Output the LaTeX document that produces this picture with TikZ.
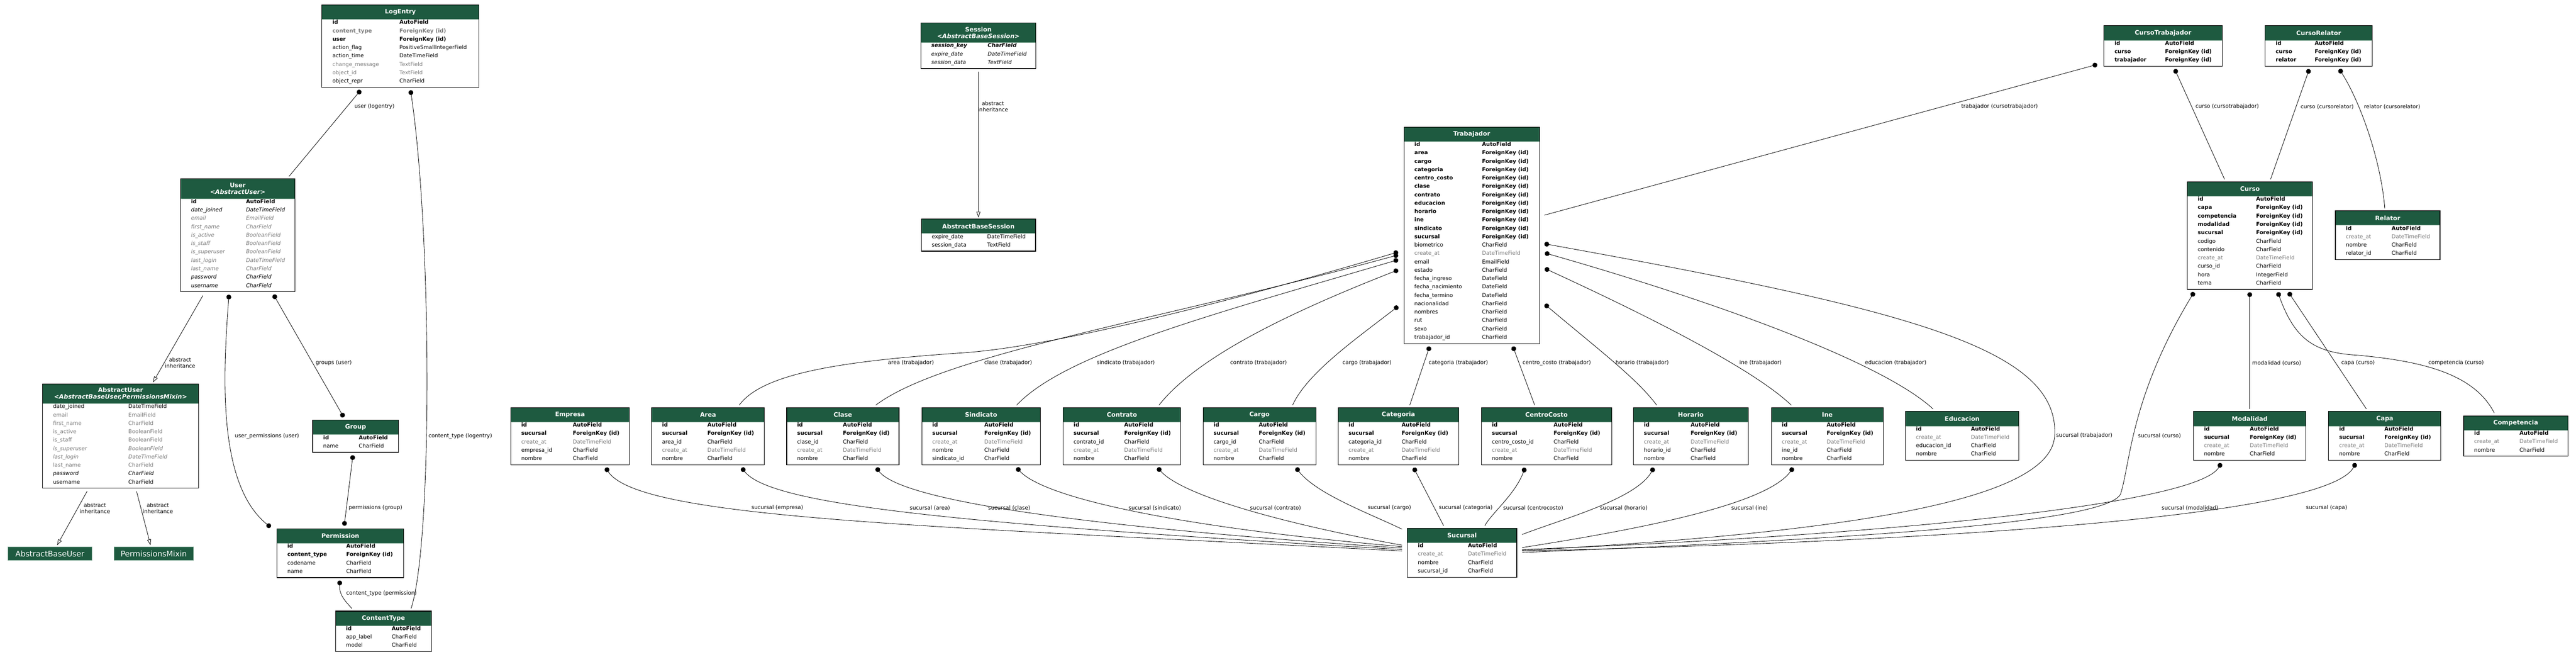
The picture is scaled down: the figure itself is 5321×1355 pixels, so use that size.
\documentclass[tikz,border=0pt]{standalone}
\usepackage{fontspec}
\setmainfont{DejaVu Sans}
\usetikzlibrary{arrows.meta}

\definecolor{hdrgreen}{RGB}{30,90,64}
\definecolor{hdrline}{RGB}{128,168,148}
\definecolor{fieldgray}{RGB}{123,123,123}

\tikzset{
  box/.style={draw=black, line width=1.2pt, fill=white, inner sep=0pt, outer sep=0pt},
  title/.style={text=white, font=\fontsize{12.6}{14}\selectfont\bfseries, align=center, inner sep=0pt},
  fld/.style={font=\fontsize{11.1}{13}\selectfont, inner sep=0pt, anchor=west, text height=8pt, text depth=2.5pt},
  rn/.style={fld},
  rb/.style={fld, font=\fontsize{11.1}{13}\selectfont\bfseries},
  rg/.style={fld, text=fieldgray},
  rbg/.style={rb, text=fieldgray},
  ri/.style={fld, font=\fontsize{11.1}{13}\selectfont\itshape},
  rig/.style={ri, text=fieldgray},
  rbi/.style={fld, font=\fontsize{11.1}{13}\selectfont\bfseries\itshape},
  fk/.style={line width=0.9pt, {Circle[length=10pt]}-},
  mm/.style={line width=0.9pt, {Circle[length=10pt]}-{Circle[length=10pt]}},
  inh/.style={line width=0.9pt, -{Triangle[open, length=12pt, width=8pt, fill=white]}},
  lbl/.style={font=\fontsize{11.1}{13}\selectfont, inner sep=0pt, anchor=west},
  inhlbl/.style={lbl, anchor=center, align=center},
  parentbox/.style={fill=hdrgreen, draw=hdrline, line width=1pt, text=white,
    font=\fontsize{16}{18}\selectfont, inner sep=0pt, anchor=north west}
}

% model table: [header height]{name}{x}{y}{width}{rows}{type column}{title}{fields}
\newcommand{\model}[9][30]{%
  \pgfmathsetmacro{\bh}{#1+19+(#6-1)*17.3}%
  \node[box, anchor=north west, minimum width=#5pt, minimum height=\bh pt] (#2) at (#3,#4) {};%
  \fill[hdrgreen] ([shift={(0.6,0.6)}]#2.north west) rectangle ([shift={(-0.6,#1)}]#2.north east);%
  \draw[hdrline, line width=1pt] ([shift={(0.6,#1)}]#2.north west) -- ([shift={(-0.6,#1)}]#2.north east);%
  \node[title] at ([shift={(0,#1/2)}]#2.north) {#8};%
  \foreach \fn/\ft/\st [count=\i from 0] in {#9} {%
    \node[\st] at ([shift={(21.5,#1+7+\i*17.3)}]#2.north west) {\fn};%
    \node[\st] at ([shift={(#7,#1+7+\i*17.3)}]#2.north west) {\ft};%
  }%
}

\begin{document}
\begin{tikzpicture}[x=1pt, y=-1pt]
\useasboundingbox (0,0) rectangle (5321,1355);

% auth and admin models
\model{LogEntry}{665}{10}{324}{8}{160}{LogEntry}{id/AutoField/rb, content\_type/ForeignKey (id)/rbg, user/ForeignKey (id)/rb, action\_flag/PositiveSmallIntegerField/rn, action\_time/DateTimeField/rn, change\_message/TextField/rg, object\_id/TextField/rg, object\_repr/CharField/rn}
\model[41]{User}{373}{369}{236}{11}{135}{User\\{\itshape <AbstractUser>}}{id/AutoField/rb, date\_joined/DateTimeField/ri, email/EmailField/rig, first\_name/CharField/rig, is\_active/BooleanField/rig, is\_staff/BooleanField/rig, is\_superuser/BooleanField/rig, last\_login/DateTimeField/rig, last\_name/CharField/rig, password/CharField/ri, username/CharField/ri}
\model[41]{AbstractUser}{88}{792}{322}{10}{177}{AbstractUser\\{\itshape <AbstractBaseUser,PermissionsMixin>}}{date\_joined/DateTimeField/rn, email/EmailField/rg, first\_name/CharField/rg, is\_active/BooleanField/rg, is\_staff/BooleanField/rg, is\_superuser/BooleanField/rig, last\_login/DateTimeField/rig, last\_name/CharField/rg, password/CharField/ri, username/CharField/rn}
\model{Group}{646}{867}{177}{2}{95}{Group}{id/AutoField/rb, name/CharField/rn}
\model{Permission}{572}{1091}{262}{4}{143}{Permission}{id/AutoField/rb, content\_type/ForeignKey (id)/rb, codename/CharField/rn, name/CharField/rn}
\model{ContentType}{693}{1261}{198}{3}{116}{ContentType}{id/AutoField/rb, app\_label/CharField/rn, model/CharField/rn}
\node[parentbox, minimum width=173pt, minimum height=28pt] (AbstractBaseUser) at (16,1128) {AbstractBaseUser};
\node[parentbox, minimum width=164pt, minimum height=28pt] (PermissionsMixin) at (235,1128) {PermissionsMixin};

% sessions
\model[41]{Session}{1902}{47}{238}{3}{138}{Session\\{\itshape <AbstractBaseSession>}}{session\_key/CharField/rbi, expire\_date/DateTimeField/ri, session\_data/TextField/ri}
\model{AbstractBaseSession}{1903}{452}{236}{2}{136}{AbstractBaseSession}{expire\_date/DateTimeField/rn, session\_data/TextField/rn}

% trabajador and cursos
\model{Trabajador}{2900}{262}{280}{24}{161}{Trabajador}{id/AutoField/rb, area/ForeignKey (id)/rb, cargo/ForeignKey (id)/rb, categoria/ForeignKey (id)/rb, centro\_costo/ForeignKey (id)/rb, clase/ForeignKey (id)/rb, contrato/ForeignKey (id)/rb, educacion/ForeignKey (id)/rb, horario/ForeignKey (id)/rb, ine/ForeignKey (id)/rb, sindicato/ForeignKey (id)/rb, sucursal/ForeignKey (id)/rb, biometrico/CharField/rn, create\_at/DateTimeField/rg, email/EmailField/rn, estado/CharField/rn, fecha\_ingreso/DateField/rn, fecha\_nacimiento/DateField/rn, fecha\_termino/DateField/rn, nacionalidad/CharField/rn, nombres/CharField/rn, rut/CharField/rn, sexo/CharField/rn, trabajador\_id/CharField/rn}
\model{CursoTrabajador}{4346}{53}{244}{3}{126}{CursoTrabajador}{id/AutoField/rb, curso/ForeignKey (id)/rb, trabajador/ForeignKey (id)/rb}
\model{CursoRelator}{4679}{53}{221}{3}{102}{CursoRelator}{id/AutoField/rb, curso/ForeignKey (id)/rb, relator/ForeignKey (id)/rb}
\model{Curso}{4518}{375}{259}{11}{142}{Curso}{id/AutoField/rb, capa/ForeignKey (id)/rb, competencia/ForeignKey (id)/rb, modalidad/ForeignKey (id)/rb, sucursal/ForeignKey (id)/rb, codigo/CharField/rn, contenido/CharField/rn, create\_at/DateTimeField/rg, curso\_id/CharField/rn, hora/IntegerField/rn, tema/CharField/rn}
\model{Relator}{4824}{435}{216}{4}{116}{Relator}{id/AutoField/rb, create\_at/DateTimeField/rg, nombre/CharField/rn, relator\_id/CharField/rn}

% catalog row
\model{Empresa}{1055}{841}{245}{5}{128}{Empresa}{id/AutoField/rb, sucursal/ForeignKey (id)/rb, create\_at/DateTimeField/rg, empresa\_id/CharField/rn, nombre/CharField/rn}
\model{Area}{1346}{841}{233}{5}{115}{Area}{id/AutoField/rb, sucursal/ForeignKey (id)/rb, area\_id/CharField/rn, create\_at/DateTimeField/rg, nombre/CharField/rn}
\model{Clase}{1625}{841}{232}{5}{116}{Clase}{id/AutoField/rb, sucursal/ForeignKey (id)/rb, clase\_id/CharField/rn, create\_at/DateTimeField/rg, nombre/CharField/rn}
\model{Sindicato}{1904}{841}{245}{5}{129}{Sindicato}{id/AutoField/rb, sucursal/ForeignKey (id)/rb, create\_at/DateTimeField/rg, nombre/CharField/rn, sindicato\_id/CharField/rn}
\model{Contrato}{2196}{841}{243}{5}{126}{Contrato}{id/AutoField/rb, sucursal/ForeignKey (id)/rb, contrato\_id/CharField/rn, create\_at/DateTimeField/rg, nombre/CharField/rn}
\model{Cargo}{2485}{841}{233}{5}{115}{Cargo}{id/AutoField/rb, sucursal/ForeignKey (id)/rb, cargo\_id/CharField/rn, create\_at/DateTimeField/rg, nombre/CharField/rn}
\model{Categoria}{2764}{841}{249}{5}{131}{Categoria}{id/AutoField/rb, sucursal/ForeignKey (id)/rb, categoria\_id/CharField/rn, create\_at/DateTimeField/rg, nombre/CharField/rn}
\model{CentroCosto}{3060}{841}{269}{5}{149}{CentroCosto}{id/AutoField/rb, sucursal/ForeignKey (id)/rb, centro\_costo\_id/CharField/rn, create\_at/DateTimeField/rg, nombre/CharField/rn}
\model{Horario}{3374}{841}{237}{5}{118}{Horario}{id/AutoField/rb, sucursal/ForeignKey (id)/rb, create\_at/DateTimeField/rg, horario\_id/CharField/rn, nombre/CharField/rn}
\model{Ine}{3659}{841}{231}{5}{114}{Ine}{id/AutoField/rb, sucursal/ForeignKey (id)/rb, create\_at/DateTimeField/rg, ine\_id/CharField/rn, nombre/CharField/rn}
\model{Educacion}{3936}{849}{234}{4}{135}{Educacion}{id/AutoField/rb, create\_at/DateTimeField/rg, educacion\_id/CharField/rn, nombre/CharField/rn}
\model{Modalidad}{4531}{849}{232}{4}{116}{Modalidad}{id/AutoField/rb, sucursal/ForeignKey (id)/rb, create\_at/DateTimeField/rg, nombre/CharField/rn}
\model{Capa}{4810}{849}{232}{4}{115}{Capa}{id/AutoField/rb, sucursal/ForeignKey (id)/rb, create\_at/DateTimeField/rg, nombre/CharField/rn}
\model{Competencia}{5089}{858}{215}{3}{115}{Competencia}{id/AutoField/rb, create\_at/DateTimeField/rg, nombre/CharField/rn}
\model{Sucursal}{2907}{1090}{226}{4}{125}{Sucursal}{id/AutoField/rb, create\_at/DateTimeField/rg, nombre/CharField/rn, sucursal\_id/CharField/rn}

% auth relations
\draw[fk] ([shift={(80,6)}]LogEntry.south west) -- ([shift={(224,-5)}]User.north west);
\draw[fk] ([shift={(183,6)}]LogEntry.south west) .. controls (892,480) and (894,1120) .. ([shift={(156,-5)}]ContentType.north west);
\draw[inh] ([shift={(46,8)}]User.south west) -- ([shift={(228,-3)}]AbstractUser.north west);
\draw[mm] ([shift={(100,6)}]User.south west) .. controls (460,780) and (450,1000) .. ([shift={(-13,-3)}]Permission.north west);
\draw[mm] ([shift={(192,6)}]User.south west) -- ([shift={(64,-6)}]Group.north west);
\draw[inh] ([shift={(92,6)}]AbstractUser.south west) -- ([shift={(102,-3)}]AbstractBaseUser.north west);
\draw[inh] ([shift={(194,6)}]AbstractUser.south west) -- ([shift={(76,-3)}]PermissionsMixin.north west);
\draw[mm] ([shift={(83,6)}]Group.south west) -- ([shift={(139,-6)}]Permission.north west);
\draw[fk] ([shift={(130,6)}]Permission.south west) .. controls (700,1230) and (718,1245) .. ([shift={(34,-5)}]ContentType.north west);
\draw[inh] ([shift={(119,6)}]Session.south west) -- ([shift={(118,-3)}]AbstractBaseSession.north west);

% curso relations
\draw[fk] ([shift={(-14,80)}]CursoTrabajador.north west) -- ([shift={(10,182)}]Trabajador.north east);
\draw[fk] ([shift={(146,6)}]CursoTrabajador.south west) -- ([shift={(77,-5)}]Curso.north west);
\draw[fk] ([shift={(91,6)}]CursoRelator.south west) -- ([shift={(172,-5)}]Curso.north west);
\draw[fk] ([shift={(153,6)}]CursoRelator.south west) .. controls (4875,210) and (4918,330) .. ([shift={(102,-5)}]Relator.north west);
\draw[fk] ([shift={(129,6)}]Curso.south west) -- ([shift={(116,-5)}]Modalidad.north west);
\draw[fk] ([shift={(209,6)}]Curso.south west) -- ([shift={(78,-5)}]Capa.north west);
\draw[fk] ([shift={(187,6)}]Curso.south west) .. controls (4740,700) and (4780,728) .. (4870,733) .. controls (5000,745) and (5110,770) .. ([shift={(63,-6)}]Competencia.north west);
\draw[fk] ([shift={(14,6)}]Curso.south west) .. controls (4400,820) and (4400,960) .. (4380,1020) .. controls (4350,1075) and (3900,1110) .. ([shift={(11,50)}]Sucursal.north east);

% trabajador relations
\draw[fk] ([shift={(10,241)}]Trabajador.north east) .. controls (3950,640) and (4255,720) .. (4244,900) .. controls (4236,1020) and (3900,1095) .. ([shift={(11,46)}]Sucursal.north east);
\draw[fk] ([shift={(11,366)}]Trabajador.north east) .. controls (3300,720) and (3380,780) .. ([shift={(48,-5)}]Horario.north west);
\draw[fk] ([shift={(11,292)}]Trabajador.north east) .. controls (3400,650) and (3620,760) .. ([shift={(41,-5)}]Ine.north west);
\draw[fk] ([shift={(11,260)}]Trabajador.north east) .. controls (3500,610) and (3880,740) .. ([shift={(57,-5)}]Educacion.north west);
\draw[fk] ([shift={(-12,258)}]Trabajador.north west) .. controls (2550,620) and (2180,715) .. (1990,728) .. controls (1740,745) and (1575,770) .. ([shift={(181,-5)}]Area.north west);
\draw[fk] ([shift={(-12,264)}]Trabajador.north west) .. controls (2400,660) and (1950,730) .. ([shift={(184,-5)}]Clase.north west);
\draw[fk] ([shift={(-12,274)}]Trabajador.north west) .. controls (2500,650) and (2200,730) .. ([shift={(196,-5)}]Sindicato.north west);
\draw[fk] ([shift={(-12,295)}]Trabajador.north west) .. controls (2650,650) and (2470,740) .. ([shift={(198,-5)}]Contrato.north west);
\draw[fk] ([shift={(-12,370)}]Trabajador.north west) .. controls (2800,700) and (2700,770) .. ([shift={(185,-5)}]Cargo.north west);
\draw[fk] ([shift={(53,6)}]Trabajador.south west) -- ([shift={(148,-5)}]Categoria.north west);
\draw[fk] ([shift={(225,6)}]Trabajador.south west) -- ([shift={(110,-5)}]CentroCosto.north west);

% sucursal relations
\draw[fk] ([shift={(196,6)}]Empresa.south west) .. controls (1320,1070) and (1900,1085) .. ([shift={(-11,47)}]Sucursal.north west);
\draw[fk] ([shift={(186,6)}]Area.south west) .. controls (1590,1040) and (1950,1080) .. ([shift={(-11,44)}]Sucursal.north west);
\draw[fk] ([shift={(185,6)}]Clase.south west) .. controls (1860,1030) and (2200,1085) .. ([shift={(-11,41)}]Sucursal.north west);
\draw[fk] ([shift={(196,6)}]Sindicato.south west) .. controls (2160,1030) and (2450,1090) .. ([shift={(-11,38)}]Sucursal.north west);
\draw[fk] ([shift={(195,6)}]Contrato.south west) .. controls (2450,1030) and (2700,1090) .. ([shift={(-11,35)}]Sucursal.north west);
\draw[fk] ([shift={(192,6)}]Cargo.south west) .. controls (2720,1020) and (2830,1060) .. ([shift={(-11,2)}]Sucursal.north west);
\draw[fk] ([shift={(156,6)}]Categoria.south west) -- ([shift={(75,-5)}]Sucursal.north west);
\draw[fk] ([shift={(90,6)}]CentroCosto.south west) .. controls (3130,1020) and (3080,1060) .. ([shift={(160,-5)}]Sucursal.north west);
\draw[fk] ([shift={(42,6)}]Horario.south west) .. controls (3380,1030) and (3230,1070) .. ([shift={(11,13)}]Sucursal.north east);
\draw[fk] ([shift={(45,6)}]Ine.south west) .. controls (3650,1040) and (3400,1090) .. ([shift={(11,40)}]Sucursal.north east);
\draw[fk] ([shift={(57,6)}]Modalidad.south west) .. controls (4540,1040) and (3900,1105) .. ([shift={(11,44)}]Sucursal.north east);
\draw[fk] ([shift={(56,6)}]Capa.south west) .. controls (4810,1060) and (4100,1115) .. ([shift={(11,47)}]Sucursal.north east);

% edge labels
\node[lbl] (lUserLog) at (732,220) {user (logentry)};
\node[lbl] (lCtLog) at (885,900) {content\_type (logentry)};
\node[inhlbl] (lInhUser) at (372,749) {abstract\\inheritance};
\node[lbl] (lUserPerm) at (485,900) {user\_permissions (user)};
\node[lbl] (lGroups) at (652,749) {groups (user)};
\node[inhlbl] (lInhBase) at (196,1049) {abstract\\inheritance};
\node[inhlbl] (lInhMixin) at (326,1049) {abstract\\inheritance};
\node[lbl] (lPermGroup) at (720,1048) {permissions (group)};
\node[lbl] (lCtPerm) at (715,1225) {content\_type (permission)};
\node[inhlbl] (lInhSession) at (2051,220) {abstract\\inheritance};
\node[lbl] (lTrabCT) at (4051,220) {trabajador (cursotrabajador)};
\node[lbl] (lCursoCT) at (4535,220) {curso (cursotrabajador)};
\node[lbl] (lCursoCR) at (4752,220) {curso (cursorelator)};
\node[lbl] (lRelCR) at (4883,220) {relator (cursorelator)};
\foreach \x/\n/\t in {1834/Area/area, 2033/Clase/clase, 2265/Sindicato/sindicato, 2541/Contrato/contrato, 2773/Cargo/cargo, 2951/Categoria/categoria, 3145/CentroCosto/centro\_costo, 3337/Horario/horario, 3593/Ine/ine, 3852/Educacion/educacion}
  \node[lbl] (lTrab\n) at (\x,749) {\t{} (trabajador)};
\foreach \x/\n/\t in {4652/Modalidad/modalidad, 4836/Capa/capa, 5016/Competencia/competencia}
  \node[lbl] (lCurso\n) at (\x,749) {\t{} (curso)};
\node[lbl] (lSucTrab) at (4247,899) {sucursal (trabajador)};
\node[lbl] (lSucCurso) at (4416,899) {sucursal (curso)};
\foreach \x/\n in {1552/empresa, 1879/area, 2041/clase, 2331/sindicato, 2582/contrato, 2825/cargo, 2972/categoria, 3105/centrocosto, 3305/horario, 3576/ine, 4465/modalidad, 4763/capa}
  \node[lbl] (lSuc\n) at (\x,1048) {sucursal (\n)};

\end{tikzpicture}
\end{document}
